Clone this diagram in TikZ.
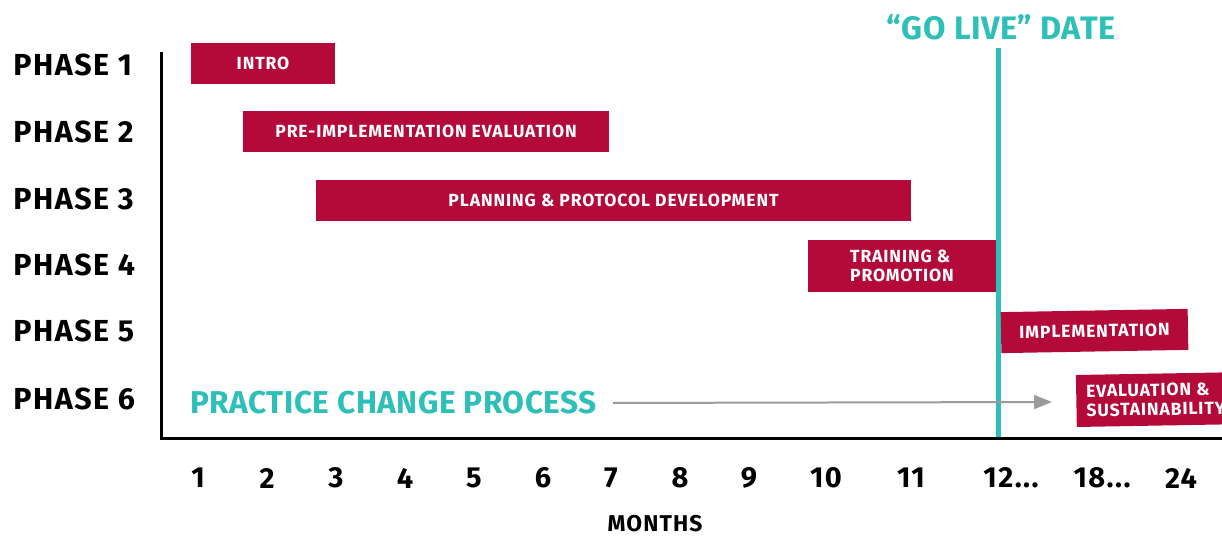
\documentclass[tikz,border=0pt]{standalone}
\usepackage{fontspec}
\setmainfont{Fira Sans}[LetterSpace=5]
\newfontfamily\titlefont{Fira Sans}[LetterSpace=1.5]
\usepackage{xcolor}
\usetikzlibrary{positioning}
\usetikzlibrary{arrows.meta}

\definecolor{barred}{HTML}{B30A3A}
\definecolor{liveteal}{HTML}{2EBFB8}
\definecolor{flowgray}{HTML}{9B9B9B}

\tikzset{
  phase/.style={anchor=west, inner sep=0pt, font=\fontsize{17.3}{20}\selectfont\bfseries},
  task/.style={fill=barred, text=white, inner sep=0pt, minimum height=0.82cm,
    font=\fontsize{10}{11}\selectfont\bfseries},
  month/.style={inner sep=0pt, font=\fontsize{16.5}{18}\selectfont\bfseries}
}

\begin{document}
\begin{tikzpicture}[x=0.02cm, y=-0.02cm]
\useasboundingbox (0,0) rectangle (1222,537);
\clip (0,0) rectangle (1222,537);

% phase labels on the left
\node[phase] (p1) at (13,65) {PHASE 1};
\node[phase] (p2) at (13,132) {PHASE 2};
\node[phase] (p3) at (13,199) {PHASE 3};
\node[phase] (p4) at (13,265) {PHASE 4};
\node[phase] (p5) at (13,331) {PHASE 5};
\node[phase] (p6) at (13,399) {PHASE 6};

% axes
\coordinate (top) at (161,52);
\coordinate (right) at (1222,438);
\draw[line width=0.06cm] (top) |- (right);

% go live line
\node[text=liveteal, inner sep=0pt, font=\fontsize{18.5}{20}\titlefont\bfseries] (live) at (1001,27) {“GO LIVE” DATE};
\coordinate (livetop) at (998,48);
\coordinate (livebot) at (998,437);
\draw[liveteal, line width=0.1cm] (livetop) -- (livebot);

% the bars
\node[task, minimum width=2.88cm] (intro) at (263,63.5) {INTRO};
\node[task, minimum width=7.32cm] (preimp) at (426,131.5) {PRE-IMPLEMENTATION EVALUATION};
\node[task, minimum width=11.9cm] (plan) at (613.5,200.5) {PLANNING \& PROTOCOL DEVELOPMENT};
\node[task, minimum width=3.76cm, minimum height=1.04cm, align=left] (train) at (902,266) {TRAINING \&\\PROMOTION};
\node[task, minimum width=3.74cm, rotate=1] (impl) at (1094.5,331) {IMPLEMENTATION};
\node[task, anchor=west, inner xsep=0.2cm, minimum height=1.04cm, align=left, rotate=1] (eval) at (1076,401) {EVALUATION \&\\SUSTAINABILITY};

% practice change
\node[phase, text=liveteal, font=\fontsize{18}{21}\titlefont\bfseries] (practice) at (190,403) {PRACTICE CHANGE PROCESS};
\coordinate (flowend) at (1052,402);
\draw[flowgray, line width=0.04cm, shorten <=0.32cm, -{Triangle[length=0.36cm,width=0.28cm]}] (practice.east) -- (flowend);

% months
\node[month] (m1) at (198,478) {1};
\node[month] (m2) at (267,478) {2};
\node[month] (m3) at (336,478) {3};
\node[month] (m4) at (405,478) {4};
\node[month] (m5) at (474,478) {5};
\node[month] (m6) at (543,478) {6};
\node[month] (m7) at (611,478) {7};
\node[month] (m8) at (680,478) {8};
\node[month] (m9) at (749,478) {9};
\node[month] (m10) at (826,478) {10};
\node[month] (m11) at (911,478) {11};
\node[month] (m12) at (1011,478) {12...};
\node[month] (m18) at (1102,478) {18...};
\node[month] (m24) at (1181,478) {24};
\node[inner sep=0pt, font=\fontsize{13}{15}\selectfont\bfseries] (months) at (655,524) {MONTHS};
\end{tikzpicture}
\end{document}
